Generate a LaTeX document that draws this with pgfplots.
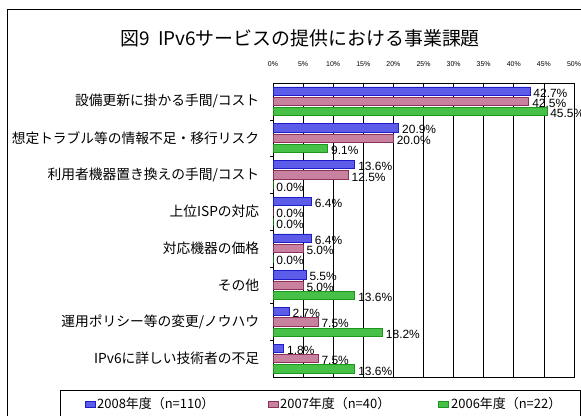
\documentclass[border=0pt]{standalone}
\usepackage{pgfplots}
\pgfplotsset{compat=1.18}
\usepackage{fontspec}
\setmainfont{Liberation Sans}
\newfontfamily\cjk{Noto Sans CJK JP}
\definecolor{bA}{RGB}{92,92,232}
\definecolor{bAd}{RGB}{30,30,200}
\definecolor{bB}{RGB}{200,130,160}
\definecolor{bBd}{RGB}{140,50,90}
\definecolor{bC}{RGB}{70,192,70}
\definecolor{bCd}{RGB}{30,150,30}
\begin{document}
\begin{tikzpicture}[x=1bp,y=1bp]
\useasboundingbox (0,0) rectangle (581,415);
\draw[line width=1bp] (7,-10) rectangle (600,405);
\node[font=\cjk\fontsize{19}{19}\selectfont, inner sep=0] at (300,377) {図9\ \ IPv6サービスの提供における事業課題};
\begin{axis}[
  at={(273bp,38bp)}, anchor=south west,
  scale only axis, width=301bp, height=294bp,
  xbar, bar width=8.3bp,
  xmin=0, xmax=50, ymin=-0.5, ymax=7.5,
  y dir=reverse,
  xtick={0,5,...,50},
  xticklabel={\pgfmathprintnumber{\tick}\%},
  xticklabel pos=upper,
  xticklabel style={font=\fontsize{7}{7}\selectfont, yshift=13bp},
  /pgf/number format/assume math mode=true,
  xtick style={draw=none},
  xmajorgrids, grid style={black, line width=0.7bp},
  ytick={0,...,7},
  yticklabels={設備更新に掛かる手間/コスト,想定トラブル等の情報不足・移行リスク,利用者機器置き換えの手間/コスト,上位ISPの対応,対応機器の価格,その他,運用ポリシー等の変更/ノウハウ,IPv6に詳しい技術者の不足},
  yticklabel style={font=\cjk\fontsize{13.8}{14}\selectfont, xshift=-6bp},
  ytick style={draw=none},
  extra y ticks={0.5,1.5,...,6.5},
  extra y tick labels={},
  extra y tick style={ytick style={draw=black}, tick align=outside, major tick length=3bp, ytick pos=left, grid=none},
  axis line style={black, line width=0.9bp},
  nodes near coords={\pgfmathprintnumber[fixed,fixed zerofill,precision=1]{\pgfplotspointmeta}\%},
  nodes near coords style={font=\fontsize{12}{12}\selectfont, anchor=west, inner sep=0, xshift=3bp, yshift=-2bp, black},
  clip=false,
]
\addplot[fill=bC, draw=bCd, line width=0.8bp] coordinates {(45.5,0) (9.1,1) (0.0,2) (0.0,3) (0.0,4) (13.6,5) (18.2,6) (13.6,7)};
\addplot[fill=bB, draw=bBd, line width=0.8bp] coordinates {(42.5,0) (20.0,1) (12.5,2) (0.0,3) (5.0,4) (5.0,5) (7.5,6) (7.5,7)};
\addplot[fill=bA, draw=bAd, line width=0.8bp] coordinates {(42.7,0) (20.9,1) (13.6,2) (6.4,3) (6.4,4) (5.5,5) (2.7,6) (1.8,7)};
\end{axis}
\draw[line width=0.8bp] (60,-10) rectangle (580,25);
\begin{scope}[every node/.style={font=\cjk\fontsize{13}{13}\selectfont, anchor=west, inner sep=0}]
\fill[bA] (85,8) rectangle (95,14); \draw[bAd,line width=0.5bp] (85,8) rectangle (95,14);
\node at (97,11) {2008年度（n=110）};
\fill[bB] (268,8) rectangle (278,14); \draw[bBd,line width=0.5bp] (268,8) rectangle (278,14);
\node at (280,11) {2007年度（n=40）};
\fill[bC] (438,8) rectangle (448,14); \draw[bCd,line width=0.5bp] (438,8) rectangle (448,14);
\node at (451,11) {2006年度（n=22）};
\end{scope}
\end{tikzpicture}
\end{document}
